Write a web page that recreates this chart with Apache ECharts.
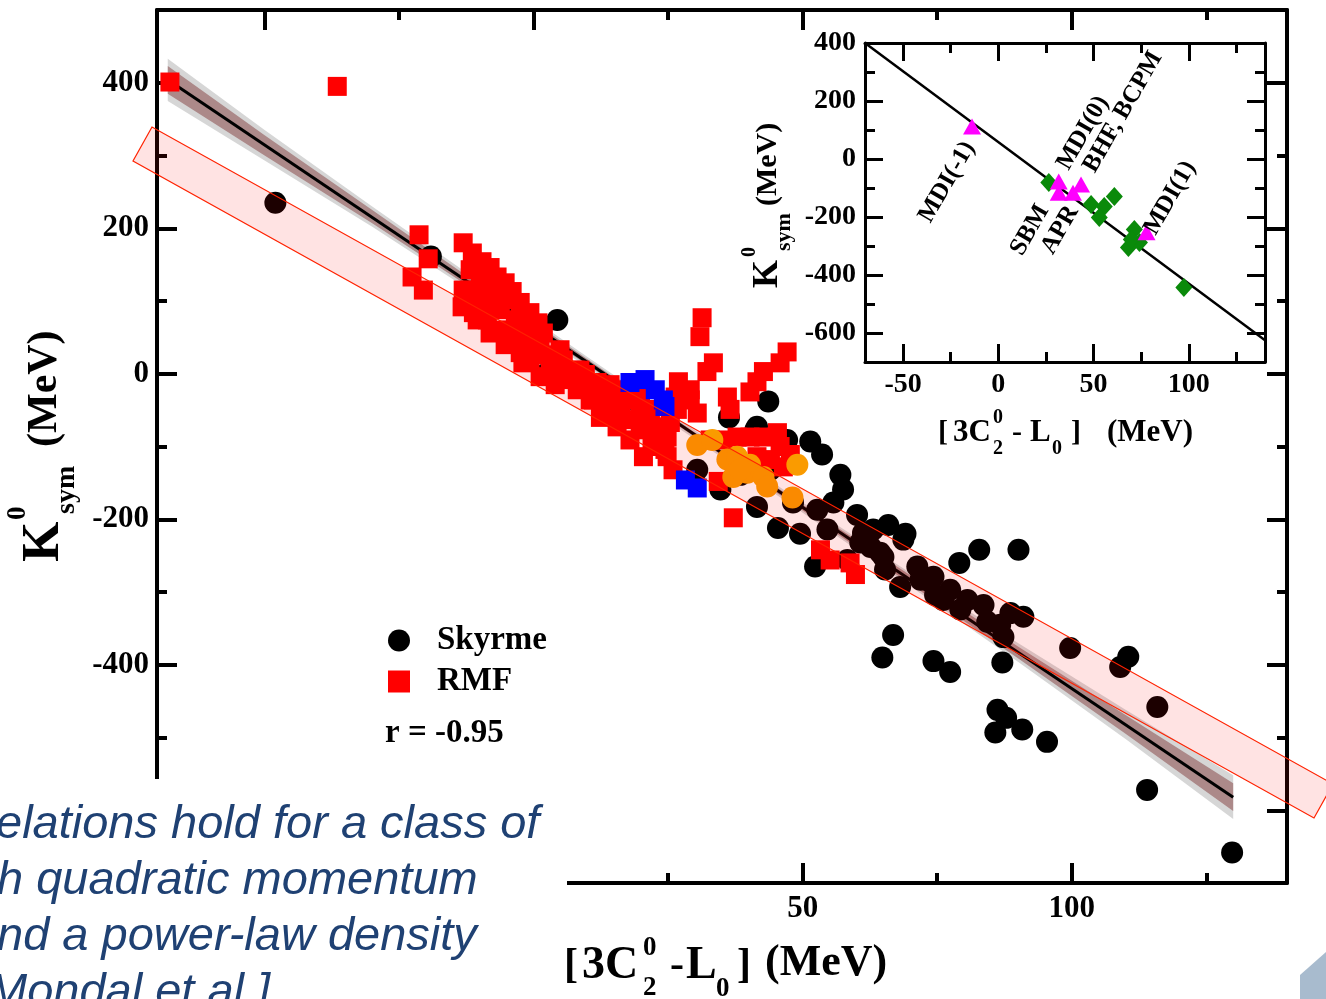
<!DOCTYPE html>
<html><head><meta charset="utf-8">
<script src="https://cdn.jsdelivr.net/npm/echarts@6/dist/echarts.min.js"></script>
<style>html,body{margin:0;padding:0;background:#fff}#c{width:1326px;height:999px}</style>
</head><body><div id="c"></div>
<script>
// ---------------- data ----------------
const skyrme = [
[-48.0,235],[-19.1,161],[4.4,74],[43.6,-38],[36.3,-60],[41.2,-77],[30.4,-132],[51.4,-93],[53.6,-111],[57.0,-139],
[57.5,-159],[60.1,-194],[34.7,-159],[41.5,-183],[45.4,-212],[49.5,-220],[52.3,-265],[65.9,-208],[69.1,-220],[68.1,-293],
[66.8,-359],[64.8,-390],[74.3,-395],[77.4,-410],[82.8,-242],[90.1,-242],[79.1,-260],[87.1,-397],[86.2,-462],[87.8,-473],
[85.8,-493],[90.8,-489],[95.4,-506],[99.7,-377],[110.5,-389],[109.0,-403],[115.9,-458],[114.0,-572],[129.8,-658],
[62.6,-238],[61.2,-219],[65.0,-252],[68.7,-228],[71.3,-265],[74.3,-279],[77.4,-297],[80.6,-311],[83.6,-318],[84.3,-341],
[87.3,-362],[88.6,-329],[91.0,-334],[76.1,-311],[79.3,-324],[55.7,-177],[52.7,-187],[63.1,-214],[60.7,-232],[64.4,-246],
[58.3,-256],[54.6,-214],[48.2,-177],[41.5,-73],[65.3,-269],[71.9,-283],[74.6,-304],[86.7,-345],[38.4,-139],[44.0,-132],
[12.4,-15],[19.8,-43],[2.1,-1],[47.1,-91]
];
const rmf = [
[-67.6,401],[-36.5,395],[-21.3,191],[-19.6,158],[-22.6,133],[-20.5,115],
[-13.1,180],[-11.4,166],[-9.6,154],[-8.1,146],[-6.8,133],[-5.3,125],[-4.0,113],[-2.5,98],[-0.7,84],[0.8,70],[1.8,56],
[-12.4,102],[-11.2,84],[-8.6,74],[-6.2,60],[-3.8,47],[-2.5,29],[-2.0,15],[1.2,-4],[3.1,10],[5.5,19],[6.8,-8],[8.1,-22],
[11.1,-36],[12.9,-49],[14.8,-26],[-13.1,115],[-13.3,92],[-10.5,74],[-8.1,56],[-5.3,40],[-0.7,19],[4.0,-15],[10.5,-36],
[11.8,-12],[14.2,-45],[15.5,-73],[17.9,-91],[20.4,-114],[22.0,-100],[24.8,-87],[25.4,-67],[26.7,-49],[26.3,-32],
[26.9,-11],[29.1,-22],[29.1,-36],[30.4,-54],[31.3,77],[30.9,51],[33.4,15],[32.2,3],[36.0,-32],[36.5,-49],
[40.2,-25],[41.5,-11],[42.7,3],[45.8,15],[47.1,30],[18.5,-36],[21.1,-49],[23.0,-73],[24.8,-114],[25.9,-132],
[32.8,-91],[35.2,-91],[37.8,-87],[40.2,-87],[42.7,-87],[45.3,-81],[45.8,-100],[44.0,-118],[41.5,-114],[34.3,-148],
[37.1,-198],[53.3,-242],[55.1,-256],[58.8,-260],[59.8,-276],[12.4,-60],[19.8,-70],[16.1,-56],[47.7,-111],[46.4,-128],
[-9.9,115],[-6.2,102],[-2.5,74],[1.2,40],[4.9,33],[7.7,5],[9.6,-1],[12.4,-22],[16.1,-36],[19.8,-49],
[-11.8,143],[-9.9,129],[-8.1,115],[-6.2,115],[-4.4,102],[-6.2,88],[-8.1,95],[-9.9,102],[-11.8,115],[-3.4,74],
[-1.6,60],[0.3,47],[-0.7,33],[-2.5,47],[-4.4,60],[2.1,26],[4.0,12],[5.9,-1],[8.6,5],[10.5,-15],
[12.4,-29],[14.2,-15],[16.1,-43],[17.9,-63],[20.7,-77],[22.6,-91],[24.4,-104],[17.0,-22],[19.8,-29],[21.7,-63]
];
const blueSet = [[17.9,-12],[20.7,-8],[22.6,-22],[24.1,-36],[24.4,-45],[28.2,-146],[30.4,-157]];
const orangeSet = [[30.4,-98],[33.2,-91],[36.0,-118],[37.8,-114],[40.2,-125],[37.1,-142],[39.7,-136],[42.7,-142],[43.4,-155],[49.0,-125],[48.1,-170],[38.4,-132]];

// fitted line and its bands
const lineX = [-68, 130];
const lineY = [404, -582];
const bandX      = [-68, -50, -30, -10, 10, 30, 50, 70, 90, 110, 130];
const greyUpper  = [433, 335, 230, 126, 23, -78, -177, -274, -370, -462, -552];
const greyLower  = [375, 293, 202, 106, 9, -90, -191, -292, -396, -502, -612];
const brownUpper = [423, 328, 225, 122, 20, -81, -180, -277, -375, -469, -563];
const brownLower = [385, 300, 207, 110, 12, -87, -188, -289, -391, -495, -601];

// inset
const insetTriangles = [[-13.8,112],[31.7,-78],[31.7,-116],[39.2,-116],[43.4,-88],[77.8,-253]];
const insetDiamonds = [[26.5,-81],[48.7,-157],[55.6,-164],[60.9,-129],[53,-202],[71.4,-243],[68.3,-305],[74.1,-288],[69.8,-278],[97.4,-443]];
const insetLineX = [-70, 140];
const insetLineY = [400, -625];

// ticks
const xMajorTicks = [-50, 0, 50, 100];
const xMinorTicks = [-25, 25, 75, 125];
const yMajorTicks = [-600, -400, -200, 0, 200, 400];
const yMinorTicks = [-500, -300, -100, 100, 300];

// ---------------- chart ----------------
const SERIF = 'Liberation Serif';
const SANS = 'Liberation Sans';
const chart = echarts.init(document.getElementById('c'));

function ax(grid, pos, min, max, ticks, len, w, line, label) {
  return {
    type: 'value', gridIndex: grid, position: pos, min: min, max: max,
    axisLine: {show: line, onZero: false, lineStyle: {color: '#000', width: w}},
    axisTick: {show: true, inside: true, length: len, customValues: ticks, lineStyle: {color: '#000', width: w}},
    axisLabel: label ? Object.assign({show: true, customValues: ticks, color: '#000', fontFamily: SERIF, fontWeight: 'bold'}, label) : {show: false},
    splitLine: {show: false}, minorTick: {show: false}, minorSplitLine: {show: false}
  };
}

const xAxes = [
  ax(0, 'bottom', -70, 140, xMajorTicks, 20, 4, true, {fontSize: 31, margin: 10}),
  ax(0, 'bottom', -70, 140, xMinorTicks, 10, 4, false, null),
  ax(0, 'top', -70, 140, xMajorTicks, 20, 4, true, null),
  ax(0, 'top', -70, 140, xMinorTicks, 10, 4, false, null),
  ax(1, 'bottom', -70, 140, xMajorTicks, 18, 3, true, {fontSize: 28, margin: 9}),
  ax(1, 'bottom', -70, 140, xMinorTicks, 10, 3, false, null),
  ax(1, 'top', -70, 140, xMajorTicks, 18, 3, true, null),
  ax(1, 'top', -70, 140, xMinorTicks, 10, 3, false, null)
];
const yAxes = [
  ax(0, 'left', -700, 500, yMajorTicks, 20, 4, true, {fontSize: 31, margin: 8}),
  ax(0, 'left', -700, 500, yMinorTicks, 10, 4, false, null),
  ax(0, 'right', -700, 500, yMajorTicks, 20, 4, true, null),
  ax(0, 'right', -700, 500, yMinorTicks, 10, 4, false, null),
  ax(1, 'left', -700, 400, yMajorTicks, 18, 3, true, {fontSize: 28, margin: 9}),
  ax(1, 'left', -700, 400, yMinorTicks, 10, 3, false, null),
  ax(1, 'right', -700, 400, yMajorTicks, 18, 3, true, null),
  ax(1, 'right', -700, 400, yMinorTicks, 10, 3, false, null)
];

function bandSeries(lo, hi, color, z) {
  return {
    type: 'custom', xAxisIndex: 0, yAxisIndex: 0, z: z, silent: true,
    data: bandX.map((x, i) => [x, lo[i], hi[i]]),
    renderItem: function (params, api) {
      if (params.dataIndex !== 0) return null;
      const top = bandX.map((x, i) => api.coord([x, hi[i]]));
      const bot = bandX.map((x, i) => api.coord([x, lo[i]])).reverse();
      return {type: 'polygon', shape: {points: top.concat(bot)}, style: {fill: color}};
    }
  };
}

function txt(x, y, text, size, opts) {
  const o = opts || {};
  return {
    type: 'text', x: x, y: y, z: o.z || 70, rotation: o.rot || 0,
    style: {
      text: text, fill: o.color || '#000',
      font: (o.italic ? 'italic ' : '') + (o.weight || 'bold') + ' ' + size + 'px "' + (o.family || SERIF) + '"',
      textAlign: o.align || 'left', align: o.align || 'left',
      textVerticalAlign: 'middle', verticalAlign: 'middle'
    }
  };
}

const slideBlue = '#1f4173';
const solid = c => ({color: c, opacity: 1});

const option = {
  animation: false,
  backgroundColor: '#fff',
  grid: [
    {left: 157, top: 10, width: 1130, height: 873, outerBoundsMode: 'none', containLabel: false},
    {left: 865, top: 43, width: 400, height: 319, outerBoundsMode: 'none', containLabel: false}
  ],
  xAxis: xAxes,
  yAxis: yAxes,
  legend: {
    left: 383, top: 619, orient: 'vertical', selectedMode: false,
    itemWidth: 22, itemHeight: 22, itemGap: 8,
    data: [{name: 'Skyrme', icon: 'circle'}, {name: 'RMF', icon: 'rect'}],
    textStyle: {fontFamily: SERIF, fontWeight: 'bold', fontSize: 33, color: '#000', padding: [0, 0, 0, 22]}
  },
  series: [
    bandSeries(greyLower, greyUpper, 'rgba(200,200,200,0.75)', 1),
    bandSeries(brownLower, brownUpper, 'rgba(130,60,60,0.5)', 1),
    {name: 'Skyrme', type: 'scatter', xAxisIndex: 0, yAxisIndex: 0, z: 2, symbol: 'circle', symbolSize: 22,
      itemStyle: solid('#000'), data: skyrme},
    {name: 'fit', type: 'line', xAxisIndex: 0, yAxisIndex: 0, z: 3, symbol: 'none',
      lineStyle: {color: '#000', width: 3}, data: lineX.map((x, i) => [x, lineY[i]])},
    {name: 'RMF', type: 'scatter', xAxisIndex: 0, yAxisIndex: 0, z: 4, symbol: 'rect', symbolSize: 19,
      itemStyle: solid('#ff0000'), data: rmf},
    {name: 'blue', type: 'scatter', xAxisIndex: 0, yAxisIndex: 0, z: 5, symbol: 'rect', symbolSize: 19,
      itemStyle: solid('#0000ff'), data: blueSet},
    {name: 'orange', type: 'scatter', xAxisIndex: 0, yAxisIndex: 0, z: 6, symbol: 'circle', symbolSize: 22,
      itemStyle: solid('#fa9b00'), data: orangeSet},
    {name: 'insetLine', type: 'line', xAxisIndex: 4, yAxisIndex: 4, z: 3, symbol: 'none',
      lineStyle: {color: '#000', width: 2.5}, data: insetLineX.map((x, i) => [x, insetLineY[i]])},
    {name: 'insetDiamonds', type: 'scatter', xAxisIndex: 4, yAxisIndex: 4, z: 4, symbol: 'diamond', symbolSize: [17, 19],
      itemStyle: solid('#0a8a0a'), data: insetDiamonds},
    {name: 'insetTriangles', type: 'scatter', xAxisIndex: 4, yAxisIndex: 4, z: 5, symbol: 'triangle', symbolSize: [18, 16],
      itemStyle: solid('#ff00ff'), data: insetTriangles}
  ],
  graphic: [
    // slide highlight band
    {type: 'polygon', z: 50, silent: true,
      shape: {points: [[152, 127], [133, 161], [1314, 818], [1333, 784]]},
      style: {fill: 'rgba(255,0,0,0.11)', stroke: '#ff2200', lineWidth: 1.2}},
    // white cover at bottom-left (slide text box)
    {type: 'rect', z: 60, silent: true, shape: {x: 0, y: 779, width: 567, height: 220}, style: {fill: '#fff'}},
    txt(-4, 825, 'elations hold for a class of', 47, {italic: true, weight: 'normal', family: SANS, color: slideBlue, z: 61}),
    txt(-3, 881, 'h quadratic momentum', 47, {italic: true, weight: 'normal', family: SANS, color: slideBlue, z: 61}),
    txt(-3, 937, 'nd a power-law density', 47, {italic: true, weight: 'normal', family: SANS, color: slideBlue, z: 61}),
    txt(-12, 993, 'Mondal et al.]', 47, {italic: true, weight: 'normal', family: SANS, color: slideBlue, z: 61}),
    // corner decoration
    {type: 'polygon', z: 61, silent: true, shape: {points: [[1300, 999], [1300, 975], [1326, 952], [1326, 999]]}, style: {fill: '#a8bbce'}},
    // r value
    txt(385, 733, 'r = -0.95', 33),
    // main x axis name
    txt(564, 966, '[', 42, {z: 62}),
    txt(582, 966, '3C', 46, {z: 62}),
    txt(643, 948, '0', 27, {z: 62}),
    txt(643, 988, '2', 27, {z: 62}),
    txt(670, 966, '-', 42, {z: 62}),
    txt(686, 966, 'L', 46, {z: 62}),
    txt(716, 989, '0', 27, {z: 62}),
    txt(737, 966, ']', 42, {z: 62}),
    txt(765, 964, '(MeV)', 44, {z: 62}),
    // main y axis name
    {type: 'group', x: 45, y: 562, rotation: Math.PI / 2, children: [
      txt(0, 0, 'K', 52),
      txt(42, -27, '0', 27),
      txt(48, 22, 'sym', 28),
      txt(115, 0, '(MeV)', 42)
    ]},
    // inset x axis name
    txt(938, 433, '[', 30),
    txt(953, 433, '3C', 31),
    txt(993, 418, '0', 20),
    txt(993, 449, '2', 20),
    txt(1012, 433, '-', 30),
    txt(1030, 433, 'L', 31),
    txt(1052, 449, '0', 20),
    txt(1071, 433, ']', 30),
    txt(1107, 433, '(MeV)', 31),
    // inset y axis name
    {type: 'group', x: 768, y: 288, rotation: Math.PI / 2, children: [
      txt(0, 0, 'K', 36),
      txt(31, -18, '0', 20),
      txt(37, 16, 'sym', 22),
      txt(82, 0, '(MeV)', 30)
    ]},
    // inset annotations
    txt(947, 182, 'MDI(-1)', 25, {align: 'center', rot: Math.PI / 3}),
    txt(1030, 230, 'SBM', 25, {align: 'center', rot: Math.PI / 3}),
    txt(1060, 230, 'APR', 25, {align: 'center', rot: Math.PI / 3}),
    txt(1083, 133, 'MDI(0)', 25, {align: 'center', rot: Math.PI / 3}),
    txt(1123, 112, 'BHF, BCPM', 25, {align: 'center', rot: Math.PI / 3}),
    txt(1170, 198, 'MDI(1)', 25, {align: 'center', rot: Math.PI / 3})
  ]
};
chart.setOption(option);
</script>
</body></html>
